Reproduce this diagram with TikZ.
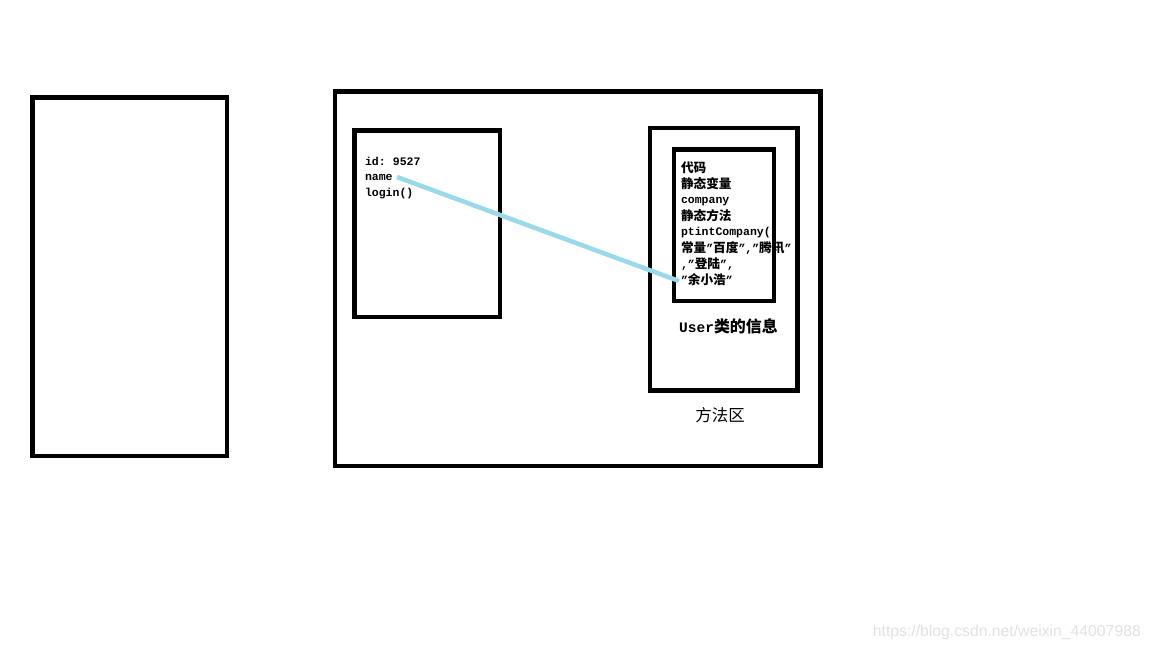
\documentclass[tikz,border=0pt]{standalone}
\usepackage{fontspec}
\newfontfamily\zhfont[Scale=1.1]{Noto Sans CJK SC}
\newfontfamily\latfont{Liberation Mono}
\newfontfamily\wmfont{Liberation Sans}
\newcommand\zh[1]{{\zhfont\bfseries #1}}
\newcommand\lat[1]{{\latfont\bfseries #1}}
\definecolor{linkblue}{HTML}{99D9EA}
\definecolor{wmgray}{RGB}{226,226,226}
\tikzset{
  box/.style={draw=black, line width=4.5pt, inner sep=0pt, outer sep=0pt, anchor=north west},
  txt/.style={inner sep=0pt, outer sep=0pt, anchor=base west},
  small/.style={font=\fontsize{11.5}{14}\selectfont},
  link/.style={draw=linkblue, line width=4.5pt}
}
\begin{document}
\begin{tikzpicture}[x=1pt,y=-1pt]
\useasboundingbox[fill=white] (0,0) rectangle (1152,648);
% boxes
\node[box, minimum width=194.5pt, minimum height=358.5pt] (stack) at (32.5,97.5) {};
\node[box, minimum width=485.5pt, minimum height=374.5pt] (heap) at (335,91.5) {};
\node[box, minimum width=145.5pt, minimum height=186.5pt] (obj) at (354.5,130.5) {};
\node[box, minimum width=147.5pt, minimum height=262.5pt] (method) at (650,128) {};
\node[box, minimum width=100pt, minimum height=151.5pt] (code) at (674,149.5) {};
% object text
\node[txt, small] (id) at (365,165) {\lat{id:\kern-2pt{} 9527}};
\node[txt, small] (nm) at (365,180.5) {\lat{name}};
\node[txt, small] (lg) at (365,196) {\lat{login()}};
% class info text
\node[txt, small] (l1) at (681,172) {\zh{代码}};
\node[txt, small] (l2) at (681,188) {\zh{静态变量}};
\node[txt, small] (l3) at (681,203.5) {\lat{company}};
\node[txt, small] (l4) at (681,220) {\zh{静态方法}};
\node[txt, small] (l5) at (681,235.5) {\lat{ptintCompany(}};
\node[txt, small] (l6) at (681,252) {\zh{常量}\lat{”}\zh{百度}\lat{”,”}\zh{腾讯}\lat{”}};
\node[txt, small] (l7) at (681,268) {\lat{,”}\zh{登陆}\lat{”,}};
\node[txt, small] (l8) at (681,284) {\lat{”}\zh{余小浩}\lat{”}};
% labels
\node[inner sep=0pt, anchor=base, font=\fontsize{14.5}{18}\selectfont] (userinfo) at (728.5,332) {\lat{User}\zh{类的信息}};
\node[inner sep=0pt, anchor=base, font=\fontsize{15}{19}\selectfont] (methodlbl) at (720,421) {{\zhfont 方法区}};
% connector
\coordinate (cs) at (397,177);
\coordinate (ct) at (679,281);
\draw[link] (cs) -- (ct);
% watermark
\node[inner sep=0pt, anchor=base east, text=wmgray, font=\fontsize{15.75}{18}\selectfont\wmfont] (wm) at (1141,636) {https://blog.csdn.net/weixin\_44007988};
\end{tikzpicture}
\end{document}
